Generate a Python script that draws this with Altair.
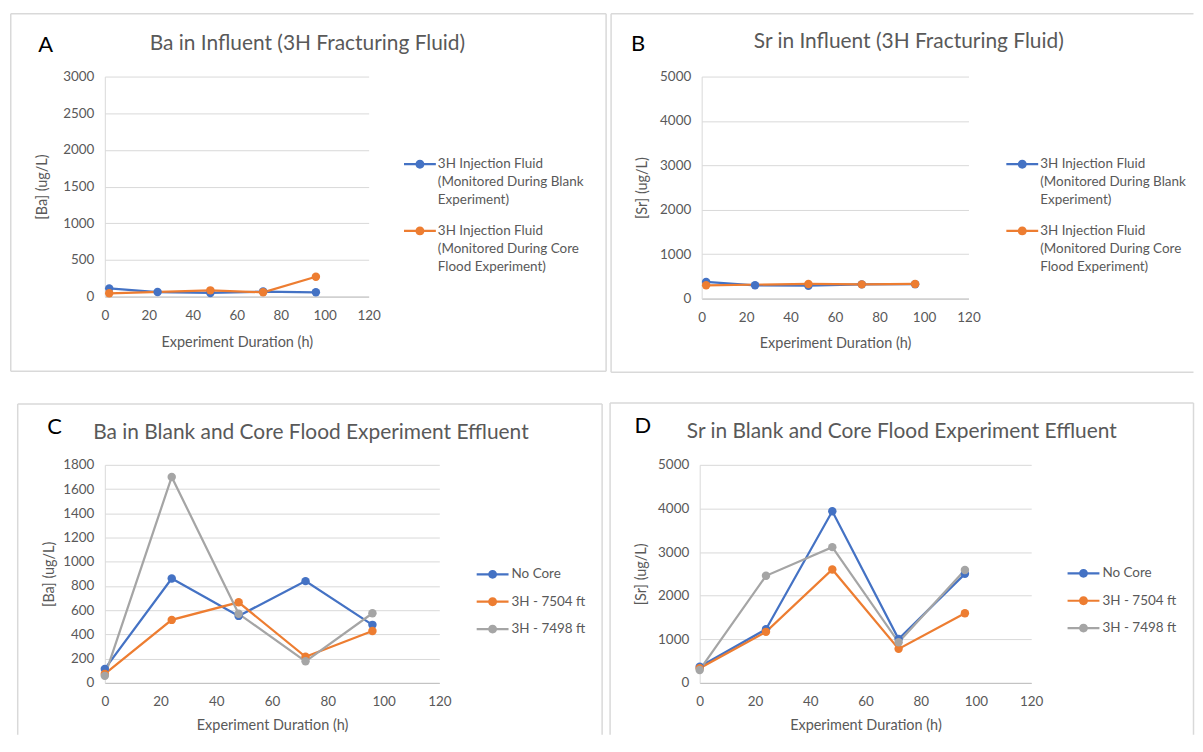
import altair as alt
import pandas as pd

FONT = "Lato"
TXT = "#595959"
FRAME = "#d9d9d9"
PALETTE = ["#4472C4", "#ED7D31", "#A5A5A5"]

# ---------------- data ----------------
x_ticks = [0, 20, 40, 60, 80, 100, 120]

# Panel A : Ba in influent
ab_series = ["3H Injection Fluid\n(Monitored During Blank\nExperiment)",
             "3H Injection Fluid\n(Monitored During Core\nFlood Experiment)"]
a_hours_blank = [2, 24, 48, 72, 96]
a_ba_blank = [112, 62, 50, 68, 58]
a_hours_core = [2, 48, 72, 96]
a_ba_core = [45, 85, 58, 270]

# Panel B : Sr in influent
b_hours_blank = [2, 24, 48, 72, 96]
b_sr_blank = [375, 300, 290, 320, 325]
b_hours_core = [2, 48, 72, 96]
b_sr_core = [300, 330, 320, 330]

# Panels C / D : effluent
cd_series = ["No Core", "3H - 7504 ft", "3H - 7498 ft"]
cd_hours = [0, 24, 48, 72, 96]
c_no_core = [115, 862, 553, 840, 479]
c_7504 = [74, 520, 665, 215, 428]
c_7498 = [58, 1700, 570, 178, 575]
d_no_core = [370, 1230, 3935, 1005, 2500]
d_7504 = [335, 1170, 2600, 780, 1598]
d_7498 = [297, 2455, 3113, 930, 2590]

titles = ["Ba in Influent (3H Fracturing Fluid)",
          "Sr in Influent (3H Fracturing Fluid)",
          "Ba in Blank and Core Flood Experiment Effluent",
          "Sr in Blank and Core Flood Experiment Effluent"]
letters = ["A", "B", "C", "D"]
x_title = "Experiment Duration (h)"

SYMBOL = ("M-2,-0.14L2,-0.14L2,0.14L-2,0.14Z "
          "M-0.56,0A0.56,0.56 0 1,1 0.56,0A0.56,0.56 0 1,1 -0.56,0Z")


def table(parts):
    rows = []
    for name, hrs, vals in parts:
        for h, v in zip(hrs, vals):
            rows.append({"series": name, "hour": h, "value": v})
    return pd.DataFrame(rows)


def rule(x1, x2, y1, y2, color=FRAME, sw=1.5):
    return alt.Chart(alt.Data(values=[{"k": 0}])).mark_rule(
        color=color, strokeWidth=sw).encode(
        x=alt.value(x1), x2=alt.value(x2), y=alt.value(y1), y2=alt.value(y2))


def label(txt, x, y, size, color):
    return alt.Chart(alt.Data(values=[{"t": txt}])).mark_text(
        font=FONT, fontSize=size, color=color, align="center", baseline="middle"
    ).encode(x=alt.value(x), y=alt.value(y), text="t:N")


def panel(df, series, g):
    n = len(series)
    xenc = alt.X("hour:Q", scale=alt.Scale(domain=[0, 120], nice=False),
                 axis=alt.Axis(values=x_ticks, title=x_title, grid=False, format="d",
                               ticks=False, tickSize=0, labelPadding=12, labelFlush=False,
                               domainColor="#bfbfbf", domainWidth=1,
                               titleX=g["w"] / 2, titleY=g["xt"],
                               titleBaseline="middle", titleAlign="center"))
    yenc = alt.Y("value:Q", scale=alt.Scale(domain=[0, g["ymax"]], nice=False),
                 axis=alt.Axis(values=list(range(0, g["ymax"] + 1, g["ystep"])),
                               title=g["ytitle"], grid=True, gridColor="#d9d9d9", format="d",
                               ticks=False, tickSize=0, labelPadding=11, labelFlush=False,
                               domainColor="#d9d9d9", domainWidth=1,
                               titleAngle=270, titleX=g["yt"], titleY=g["h"] / 2,
                               titleBaseline="middle", titleAlign="center"))
    cscale = alt.Scale(domain=series, range=PALETTE[:n])
    legend = alt.Legend(orient="none", legendX=g["lx"], legendY=g["ly"], title=None,
                        symbolType=SYMBOL, symbolSize=256, symbolStrokeWidth=0,
                        labelExpr="split(datum.label, '\\n')", labelLimit=400,
                        labelOffset=g["lo"], rowPadding=g["rp"])
    color = alt.Color("series:N", scale=cscale, legend=legend)
    base = alt.Chart(df)
    lines = base.mark_line(strokeWidth=2.25).encode(x=xenc, y=yenc, color=color)
    dots = base.mark_circle(size=72, opacity=1).encode(x=xenc, y=yenc, color=color)

    l, r, t, b = g["frame"]
    sides = g.get("sides", "tlrb")
    layers = []
    if "t" in sides:
        layers.append(rule(l, r, t, t))
    if "l" in sides:
        layers.append(rule(l, l, t, b))
    if "r" in sides:
        layers.append(rule(r, r, t, b))
    if "b" in sides:
        layers.append(rule(l, r, b, b))
    layers += [lines, dots,
               label(g["letter"], g["lxy"][0], g["lxy"][1], 22, "black"),
               label(g["title"], g["txy"][0], g["txy"][1], 21, TXT)]
    return alt.layer(*layers).properties(width=g["w"], height=g["h"])


df_a = table([(ab_series[0], a_hours_blank, a_ba_blank),
              (ab_series[1], a_hours_core, a_ba_core)])
df_b = table([(ab_series[0], b_hours_blank, b_sr_blank),
              (ab_series[1], b_hours_core, b_sr_core)])
df_c = table([(cd_series[0], cd_hours, c_no_core),
              (cd_series[1], cd_hours, c_7504),
              (cd_series[2], cd_hours, c_7498)])
df_d = table([(cd_series[0], cd_hours, d_no_core),
              (cd_series[1], cd_hours, d_7504),
              (cd_series[2], cd_hours, d_7498)])

# plot origins: A (104.5, 75)  B (704, 75)  C (104.5, 465)  D (702, 465)
pa = panel(df_a, ab_series, dict(
    w=265, h=221, ymax=3000, ystep=500, ytitle="[Ba] (ug/L)",
    letter=letters[0], title=titles[0], frame=(-94.5, 503.5, -63, 296),
    lxy=(-59.5, -32), txy=(203.5, -33), yt=-62.5, xt=46,
    lx=308.5, ly=80, lo=10, rp=16))
pb = panel(df_b, ab_series, dict(
    w=268, h=223, ymax=5000, ystep=1000, ytitle="[Sr] (ug/L)",
    letter=letters[1], title=titles[1], frame=(-91, 494, -63, 297), sides="tlb",
    lxy=(-64, -33), txy=(208, -35), yt=-59, xt=45,
    lx=314, ly=80, lo=10, rp=16))
pc = panel(df_c, cd_series, dict(
    w=336, h=219, ymax=1800, ystep=200, ytitle="[Ba] (ug/L)",
    letter=letters[2], title=titles[2], frame=(-87.5, 499.5, -61, 271), sides="tlr",
    lxy=(-50.5, -38), txy=(207, -32), yt=-55.5, xt=43,
    lx=381.5, ly=102, lo=11, rp=12.5))
pd_ = panel(df_d, cd_series, dict(
    w=333, h=219, ymax=5000, ystep=1000, ytitle="[Sr] (ug/L)",
    letter=letters[3], title=titles[3], frame=(-90, 496, -62, 271), sides="tlr",
    lxy=(-57, -39), txy=(203, -33), yt=-58, xt=43,
    lx=377.5, ly=101, lo=11, rp=12.5))

res = dict(x="independent", y="independent", color="independent")
row1 = alt.hconcat(pa, pb, spacing=334.5, bounds="flush").resolve_scale(**res).resolve_legend(color="independent")
row2 = alt.hconcat(pc, pd_, spacing=261.5, bounds="flush").resolve_scale(**res).resolve_legend(color="independent")

chart = alt.vconcat(row1, row2, spacing=390, bounds="flush").resolve_scale(**res).resolve_legend(
    color="independent"
).properties(
    padding={"left": 1.25, "top": 3.25, "right": 0, "bottom": 0}
).configure(
    style={"guide-label": {"lineHeight": 18}}
).configure_view(strokeWidth=0).configure_axis(
    labelFont=FONT, labelFontSize=13.5, labelColor=TXT,
    titleFont=FONT, titleFontSize=14.5, titleColor=TXT, titleFontWeight="normal"
).configure_legend(
    labelFont=FONT, labelFontSize=13.5, labelColor=TXT, padding=0
)

chart.save("out.html", embed_options={"renderer": "svg", "actions": False})
